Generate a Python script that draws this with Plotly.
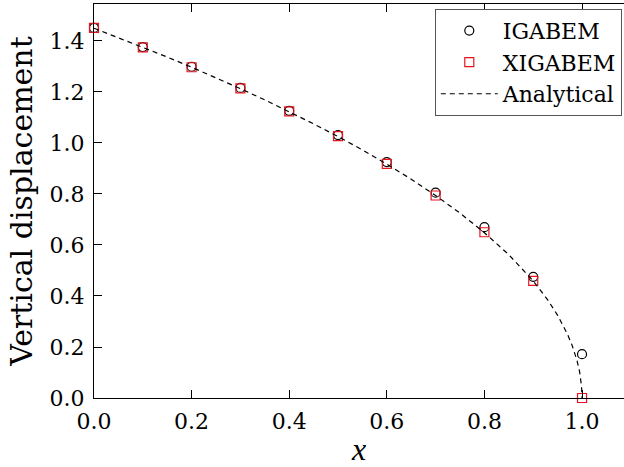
import plotly.graph_objects as go

x_pts = [0.0, 0.1, 0.2, 0.3, 0.4, 0.5, 0.6, 0.7, 0.8, 0.9, 1.0]
igabem = [1.451, 1.376, 1.299, 1.216, 1.126, 1.031, 0.925, 0.805, 0.670, 0.475, 0.172]
xigabem = [1.451, 1.375, 1.297, 1.214, 1.124, 1.027, 0.918, 0.794, 0.650, 0.459, 0.0]

x_an = [0.0, 0.05, 0.1, 0.15, 0.2, 0.25, 0.3, 0.35, 0.4, 0.45, 0.5, 0.55, 0.6, 0.65,
        0.7, 0.75, 0.8, 0.85, 0.9, 0.93, 0.95, 0.97, 0.98, 0.99, 0.995, 0.999, 1.0]
y_an = [1.450, 1.413, 1.376, 1.337, 1.297, 1.256, 1.213, 1.169, 1.123, 1.075, 1.025,
        0.973, 0.917, 0.858, 0.794, 0.725, 0.648, 0.562, 0.459, 0.384, 0.324, 0.251,
        0.205, 0.145, 0.103, 0.046, 0.0]

y_ticks = [0.0, 0.2, 0.4, 0.6, 0.8, 1.0, 1.2, 1.4]
x_ticks = [0.0, 0.2, 0.4, 0.6, 0.8, 1.0]

serif = "DejaVu Serif"

fig = go.Figure()
fig.add_trace(go.Scatter(x=x_pts, y=igabem, mode="markers", name="IGABEM",
                         marker=dict(symbol="circle-open", size=9, color="black",
                                     line=dict(width=1.2, color="black")),
                         cliponaxis=False))
fig.add_trace(go.Scatter(x=x_pts, y=xigabem, mode="markers", name="XIGABEM",
                         marker=dict(symbol="square-open", size=9, color="#e8141e",
                                     line=dict(width=1.2, color="#e8141e")),
                         cliponaxis=False))
fig.add_trace(go.Scatter(x=x_an, y=y_an, mode="lines", name="Analytical",
                         line=dict(color="black", width=1.2, dash="5px,4px")))

axis_common = dict(showgrid=False, zeroline=False, showline=True, linecolor="black",
                   linewidth=1.2, ticks="inside", ticklen=8, tickwidth=1, automargin=False,
                   tickcolor="black", tickfont=dict(family=serif, size=22, color="black"))

fig.update_layout(
    width=624, height=467,
    margin=dict(l=94, r=0, t=4, b=69),
    plot_bgcolor="white", paper_bgcolor="white",
    showlegend=True,
    legend=dict(x=0.643, y=0.988, xanchor="left", yanchor="top",
                bgcolor="white", bordercolor="#555555", borderwidth=1,
                font=dict(family=serif, size=22, color="black"),
                tracegroupgap=0, itemwidth=57),
    xaxis=dict(range=[0, 1.086], tickvals=x_ticks, ticktext=["0.0", "0.2", "0.4", "0.6", "0.8", "1.0"],
               mirror="ticks", ticklabelstandoff=3,
               title=dict(text="<i>x</i>", font=dict(family="Liberation Serif", size=32, color="black"), standoff=8),
               **axis_common),
    yaxis=dict(range=[0, 1.545], tickvals=y_ticks,
               ticktext=["0.0", "0.2", "0.4", "0.6", "0.8", "1.0", "1.2", "1.4"],
               ticklabelstandoff=4,
               title=dict(text="Vertical displacement", font=dict(family=serif, size=30, color="black"), standoff=8),
               **axis_common),
    yaxis2=dict(range=[0, 1.545], overlaying="y", side="right", anchor="x",
                tickvals=y_ticks, showticklabels=False, showgrid=False, zeroline=False,
                showline=False, ticks="inside", ticklen=8, tickcolor="black"),
)

fig.write_html("out.html", config={"displayModeBar": False},
               post_script="document.body.style.margin='0';document.body.style.overflow='hidden';")
